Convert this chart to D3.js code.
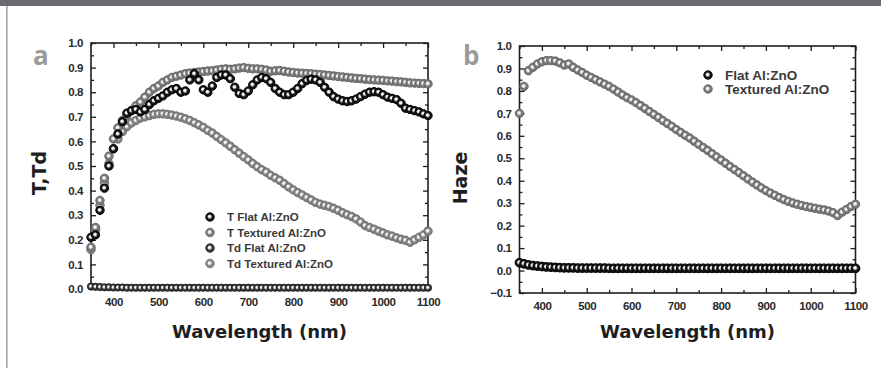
<!DOCTYPE html>
<html>
<head>
<meta charset="utf-8">
<script src="https://cdn.jsdelivr.net/npm/d3@7"></script>
<style>
  body { margin: 0; background: #fff; }
  svg { display: block; }
</style>
</head>
<body>
<svg id="chart" width="881" height="368"></svg>
<script>
// sampling positions (nm)
const wavelengths = d3.range(350, 1101, 10);

// panel a – total / diffuse transmittance
const tFlat = [0.21, 0.22, 0.32, 0.41, 0.50, 0.57, 0.63, 0.68, 0.715, 0.725,
  0.73, 0.72, 0.73, 0.75, 0.765, 0.775, 0.785, 0.80, 0.81, 0.815,
  0.80, 0.805, 0.85, 0.875, 0.85, 0.81, 0.80, 0.825, 0.86, 0.87,
  0.87, 0.855, 0.82, 0.795, 0.79, 0.805, 0.83, 0.85, 0.86, 0.855,
  0.84, 0.815, 0.80, 0.79, 0.79, 0.80, 0.815, 0.835, 0.848, 0.853,
  0.85, 0.84, 0.82, 0.80, 0.782, 0.772, 0.765, 0.762, 0.765, 0.772,
  0.782, 0.792, 0.80, 0.802, 0.80, 0.79, 0.78, 0.775, 0.77, 0.755,
  0.735, 0.73, 0.725, 0.72, 0.712, 0.705];
const tTextured = [0.17, 0.25, 0.36, 0.45, 0.54, 0.61, 0.655, 0.685, 0.705, 0.725,
  0.745, 0.76, 0.78, 0.80, 0.815, 0.825, 0.84, 0.85, 0.86, 0.865,
  0.87, 0.875, 0.878, 0.88, 0.882, 0.884, 0.886, 0.887, 0.89, 0.893,
  0.895, 0.893, 0.895, 0.898, 0.90, 0.897, 0.895, 0.895, 0.893, 0.89,
  0.885, 0.887, 0.888, 0.885, 0.882, 0.88, 0.878, 0.877, 0.876, 0.875,
  0.873, 0.872, 0.87, 0.868, 0.866, 0.864, 0.862, 0.86, 0.858, 0.856,
  0.855, 0.853, 0.851, 0.85, 0.849, 0.848, 0.846, 0.845, 0.843, 0.842,
  0.84, 0.838, 0.837, 0.836, 0.835, 0.834];
const tdFlat = [0.01, 0.009, 0.008, 0.007, 0.007, 0.006, 0.006, 0.006, 0.005, 0.005,
  0.005, 0.005, 0.005, 0.005, 0.005, 0.005, 0.005, 0.005, 0.005, 0.005,
  0.005, 0.005, 0.005, 0.005, 0.005, 0.005, 0.005, 0.005, 0.005, 0.005,
  0.005, 0.005, 0.005, 0.005, 0.005, 0.005, 0.005, 0.005, 0.005, 0.005,
  0.005, 0.005, 0.005, 0.005, 0.005, 0.005, 0.005, 0.005, 0.005, 0.005,
  0.005, 0.005, 0.005, 0.005, 0.005, 0.005, 0.005, 0.005, 0.005, 0.005,
  0.005, 0.005, 0.005, 0.005, 0.005, 0.005, 0.005, 0.005, 0.005, 0.005,
  0.005, 0.005, 0.005, 0.005, 0.005, 0.005];
const tdTextured = [0.16, 0.24, 0.34, 0.43, 0.51, 0.57, 0.61, 0.64, 0.66, 0.675,
  0.685, 0.695, 0.70, 0.705, 0.71, 0.712, 0.712, 0.71, 0.707, 0.703,
  0.698, 0.692, 0.685, 0.676, 0.667, 0.657, 0.645, 0.634, 0.62, 0.607,
  0.594, 0.58, 0.566, 0.552, 0.538, 0.525, 0.51, 0.497, 0.485, 0.475,
  0.462, 0.452, 0.442, 0.428, 0.415, 0.403, 0.392, 0.382, 0.372, 0.362,
  0.352, 0.345, 0.34, 0.335, 0.328, 0.32, 0.31, 0.302, 0.295, 0.285,
  0.272, 0.258, 0.25, 0.243, 0.235, 0.228, 0.22, 0.215, 0.208, 0.202,
  0.198, 0.19, 0.2, 0.21, 0.22, 0.235];

// panel b – haze
const hazeFlat = [0.035, 0.03, 0.025, 0.022, 0.02, 0.018, 0.016, 0.015, 0.014, 0.013,
  0.012, 0.012, 0.012, 0.011, 0.011, 0.011, 0.011, 0.011, 0.011, 0.011,
  0.01, 0.01, 0.01, 0.01, 0.01, 0.01, 0.01, 0.01, 0.01, 0.01,
  0.01, 0.01, 0.01, 0.01, 0.01, 0.01, 0.01, 0.01, 0.01, 0.01,
  0.01, 0.01, 0.01, 0.01, 0.01, 0.01, 0.01, 0.01, 0.01, 0.01,
  0.01, 0.01, 0.01, 0.01, 0.01, 0.01, 0.01, 0.01, 0.01, 0.01,
  0.01, 0.01, 0.01, 0.01, 0.01, 0.01, 0.01, 0.01, 0.01, 0.01,
  0.01, 0.01, 0.01, 0.01, 0.01, 0.01];
const hazeTextured = [0.70, 0.82, 0.89, 0.905, 0.92, 0.93, 0.935, 0.935, 0.933, 0.925,
  0.915, 0.92, 0.905, 0.893, 0.882, 0.87, 0.86, 0.85, 0.84, 0.83,
  0.82, 0.808, 0.795, 0.782, 0.77, 0.76, 0.748, 0.735, 0.722, 0.708,
  0.695, 0.682, 0.668, 0.655, 0.642, 0.628, 0.615, 0.602, 0.59, 0.576,
  0.562, 0.548, 0.535, 0.52, 0.506, 0.492, 0.478, 0.463, 0.45, 0.436,
  0.422, 0.408, 0.394, 0.381, 0.368, 0.356, 0.345, 0.335, 0.325, 0.316,
  0.308, 0.301, 0.295, 0.29, 0.285, 0.281, 0.277, 0.273, 0.27, 0.265,
  0.258, 0.245, 0.26, 0.272, 0.285, 0.295];

// ticks
const xMajor = [400, 500, 600, 700, 800, 900, 1000, 1100];
const xMinor = [350, 450, 550, 650, 750, 850, 950, 1050];
const yMajorA = d3.range(0, 11).map(i => i / 10);
const yMajorB = d3.range(-1, 11).map(i => i / 10);

const svg = d3.select("#chart");
const defs = svg.append("defs");

// ring-like marker fill: light centre, coloured rim
function gradient(id, color) {
  const g = defs.append("radialGradient").attr("id", id)
    .attr("cx", "50%").attr("cy", "50%").attr("r", "50%")
    .attr("fx", "42%").attr("fy", "42%");
  g.append("stop").attr("offset", "0%").attr("stop-color", "#ffffff");
  g.append("stop").attr("offset", "28%").attr("stop-color", "#eeeeee");
  g.append("stop").attr("offset", "60%").attr("stop-color", color);
  g.append("stop").attr("offset", "100%").attr("stop-color", color);
  return `url(#${id})`;
}

// page chrome
svg.append("rect").attr("x", 0).attr("y", 0).attr("width", 881).attr("height", 6).attr("fill", "#6b6b70");
svg.append("rect").attr("x", 6).attr("y", 6).attr("width", 1.6).attr("height", 362).attr("fill", "#a3a3a3");

const tickFont = "'Liberation Sans', Arial, sans-serif";
const titleFont = "'DejaVu Sans', Verdana, sans-serif";

function drawPanel(p) {
  const x = d3.scaleLinear().domain([350, 1100]).range([p.left, p.right]);
  const y = d3.scaleLinear().domain(p.yDomain).range([p.bottom, p.top]);
  const g = svg.append("g");

  const styleAxis = sel => {
    sel.select(".domain").remove();
    sel.selectAll("line").attr("stroke", "#1e1e1e").attr("stroke-width", 1.3);
    sel.selectAll("text").attr("font-family", tickFont).attr("font-weight", "bold")
      .attr("font-size", 11.5).attr("letter-spacing", -0.4).attr("fill", "#2a2a2a");
  };

  g.append("g").attr("transform", `translate(0,${p.bottom})`)
    .call(d3.axisBottom(x).tickValues(xMajor).tickSize(-5).tickSizeOuter(0).tickPadding(9).tickFormat(d3.format("d")))
    .call(styleAxis);
  g.append("g").attr("transform", `translate(0,${p.bottom})`)
    .call(d3.axisBottom(x).tickValues(xMinor).tickSize(-3).tickSizeOuter(0).tickFormat(""))
    .call(styleAxis);
  g.append("g").attr("transform", `translate(0,${p.top})`)
    .call(d3.axisTop(x).tickValues(xMajor).tickSize(-5).tickSizeOuter(0).tickFormat(""))
    .call(styleAxis);
  g.append("g").attr("transform", `translate(0,${p.top})`)
    .call(d3.axisTop(x).tickValues(xMinor).tickSize(-3).tickSizeOuter(0).tickFormat(""))
    .call(styleAxis);

  const yMinor = p.yMajor.slice(0, -1).map(v => v + 0.05);
  g.append("g").attr("transform", `translate(${p.left},0)`)
    .call(d3.axisLeft(y).tickValues(p.yMajor).tickSize(-5).tickSizeOuter(0).tickPadding(8).tickFormat(d3.format(".1f")))
    .call(styleAxis);
  g.append("g").attr("transform", `translate(${p.left},0)`)
    .call(d3.axisLeft(y).tickValues(yMinor).tickSize(-3).tickSizeOuter(0).tickFormat(""))
    .call(styleAxis);
  g.append("g").attr("transform", `translate(${p.right},0)`)
    .call(d3.axisRight(y).tickValues(p.yMajor).tickSize(-5).tickSizeOuter(0).tickFormat(""))
    .call(styleAxis);
  g.append("g").attr("transform", `translate(${p.right},0)`)
    .call(d3.axisRight(y).tickValues(yMinor).tickSize(-3).tickSizeOuter(0).tickFormat(""))
    .call(styleAxis);

  g.append("rect").attr("x", p.left).attr("y", p.top)
    .attr("width", p.right - p.left).attr("height", p.bottom - p.top)
    .attr("fill", "none").attr("stroke", "#1e1e1e").attr("stroke-width", 1.6);

  // data markers
  for (const s of p.series) {
    const fill = gradient(s.id, s.color);
    g.append("g").selectAll("circle")
      .data(wavelengths.map((w, i) => [w, s.values[i]]))
      .join("circle")
      .attr("cx", d => x(d[0]))
      .attr("cy", d => y(d[1]))
      .attr("r", s.r || 4.2)
      .attr("fill", fill)
      .attr("stroke", s.rim)
      .attr("stroke-width", 1);
  }

  // legend
  const lg = g.append("g");
  p.legendOrder.forEach((s, i) => {
    const ly = p.legend.y + i * p.legend.step;
    lg.append("circle").attr("cx", p.legend.x).attr("cy", ly).attr("r", 4.3)
      .attr("fill", `url(#${s.id})`).attr("stroke", s.rim).attr("stroke-width", 0.8);
    lg.append("text").attr("x", p.legend.x + 17).attr("y", ly).attr("dy", "0.35em")
      .attr("font-family", "'Liberation Sans', Arial, sans-serif").attr("font-weight", "bold")
      .attr("font-size", p.legend.size).attr("fill", "#3a3a3a").text(s.label);
  });

  // axis titles
  g.append("text").attr("x", (p.left + p.right) / 2).attr("y", 338)
    .attr("text-anchor", "middle").attr("font-family", titleFont).attr("font-weight", "bold")
    .attr("font-size", 18).attr("fill", "#1e1e1e").text("Wavelength (nm)");
  g.append("text").attr("transform", `translate(${p.yTitleX},${p.yTitleY}) rotate(-90)`)
    .attr("text-anchor", "middle").attr("font-family", titleFont).attr("font-weight", "bold")
    .attr("font-size", 19).attr("fill", "#1e1e1e").text(p.yTitle);

  // panel letter
  g.append("text").attr("x", p.letterX).attr("y", 65)
    .attr("font-family", "'Open Sans', 'DejaVu Sans', sans-serif").attr("font-weight", "bold")
    .attr("font-size", 26).attr("fill", "#9b9b9b").text(p.letter);
}

const sTFlat = { id: "gTFlat", label: "T Flat Al:ZnO", color: "#151515", rim: "#000", values: tFlat };
const sTTex = { id: "gTTex", label: "T Textured Al:ZnO", color: "#7a7a7a", rim: "#666", values: tTextured };
const sTdFlat = { id: "gTdFlat", label: "Td Flat Al:ZnO", color: "#3a3a3a", rim: "#222", values: tdFlat, r: 3.6 };
const sTdTex = { id: "gTdTex", label: "Td Textured Al:ZnO", color: "#858585", rim: "#6e6e6e", values: tdTextured };

drawPanel({
  left: 91, right: 428, top: 43, bottom: 289,
  yDomain: [0, 1], yMajor: yMajorA,
  series: [sTdFlat, sTdTex, sTTex, sTFlat],
  legendOrder: [sTFlat, sTTex, sTdFlat, sTdTex],
  legend: { x: 210, y: 217, step: 15.5, size: 11.5 },
  yTitle: "T,Td", yTitleX: 46, yTitleY: 173, letter: "a", letterX: 33
});

const sHFlat = { id: "gHFlat", label: "Flat Al:ZnO", color: "#151515", rim: "#000", values: hazeFlat, r: 4.4 };
const sHTex = { id: "gHTex", label: "Textured Al:ZnO", color: "#7a7a7a", rim: "#666", values: hazeTextured };

drawPanel({
  left: 519.5, right: 855.5, top: 46, bottom: 293,
  yDomain: [-0.1, 1], yMajor: yMajorB,
  series: [sHFlat, sHTex],
  legendOrder: [sHFlat, sHTex],
  legend: { x: 708, y: 75, step: 14, size: 13.5 },
  yTitle: "Haze", yTitleX: 467, yTitleY: 178, letter: "b", letterX: 463
});
</script>
</body>
</html>
